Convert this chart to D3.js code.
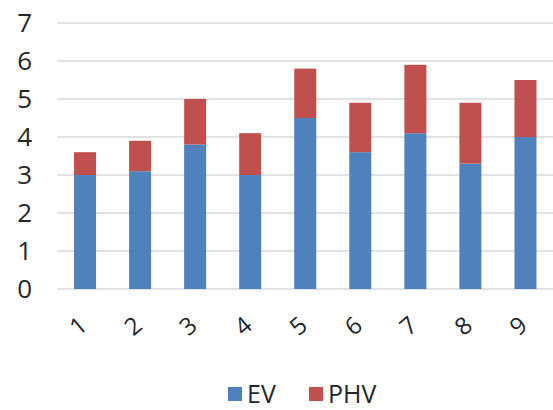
<!DOCTYPE html>
<html>
<head>
<meta charset="utf-8">
<script src="https://cdn.jsdelivr.net/npm/d3@7"></script>
<style>
  body { margin: 0; background: #fff; }
  svg { display: block; font-family: "Open Sans", sans-serif; }
</style>
</head>
<body>
<script>
// data
const categories = ['1', '2', '3', '4', '5', '6', '7', '8', '9'];
const ev  = [3.0, 3.1, 3.8, 3.0, 4.5, 3.6, 4.1, 3.3, 4.0];
const phv = [0.6, 0.8, 1.2, 1.1, 1.3, 1.3, 1.8, 1.6, 1.5];
const yTicks = [0, 1, 2, 3, 4, 5, 6, 7];
const seriesNames = ['EV', 'PHV'];
const colors = ['#4f81bd', '#c0504d'];

const width = 553, height = 410;

const svg = d3.select('body').append('svg')
  .attr('width', width)
  .attr('height', height);

const x = d3.scaleBand()
  .domain(categories)
  .range([57.5, 553])
  .paddingInner(0.6)
  .paddingOuter(0.3);

const y = d3.scaleLinear()
  .domain([0, 7])
  .range([289, 23]);

// gridlines
svg.append('g')
  .selectAll('line')
  .data(yTicks)
  .enter().append('line')
  .attr('x1', 57.5)
  .attr('x2', 553)
  .attr('y1', d => y(d))
  .attr('y2', d => y(d))
  .attr('stroke', '#d9d9d9')
  .attr('stroke-width', 1.5);

// y labels
svg.append('g')
  .selectAll('text')
  .data(yTicks)
  .enter().append('text')
  .attr('x', 32)
  .attr('y', d => y(d))
  .attr('dy', '0.35em')
  .attr('text-anchor', 'end')
  .attr('font-size', 26)
  .attr('fill', '#262626')
  .text(d => d);

// stacked bars
const rows = categories.map((c, i) => ({ cat: c, EV: ev[i], PHV: phv[i] }));
const stacked = d3.stack().keys(seriesNames)(rows);

svg.append('g')
  .selectAll('g')
  .data(stacked)
  .enter().append('g')
  .attr('fill', (d, i) => colors[i])
  .selectAll('rect')
  .data(d => d)
  .enter().append('rect')
  .attr('x', d => x(d.data.cat))
  .attr('width', x.bandwidth())
  .attr('y', d => y(d[1]))
  .attr('height', d => y(d[0]) - y(d[1]));

// x labels, rotated
svg.append('g')
  .selectAll('text')
  .data(categories)
  .enter().append('text')
  .attr('transform', d => 'translate(' + (x(d) + x.bandwidth() / 2 - 7) + ',326) rotate(-40)')
  .attr('text-anchor', 'middle')
  .attr('dy', '0.35em')
  .attr('font-size', 24)
  .attr('fill', '#262626')
  .text(d => d);

// legend
const legendX = [228, 309];
const legend = svg.append('g')
  .selectAll('g')
  .data(seriesNames)
  .enter().append('g')
  .attr('transform', (d, i) => 'translate(' + legendX[i] + ',387)');

legend.append('rect')
  .attr('width', 14)
  .attr('height', 14)
  .attr('fill', (d, i) => colors[i]);

legend.append('text')
  .attr('x', 19)
  .attr('y', 7)
  .attr('dy', '0.35em')
  .attr('font-size', 25)
  .attr('fill', '#262626')
  .text(d => d);
</script>
</body>
</html>
